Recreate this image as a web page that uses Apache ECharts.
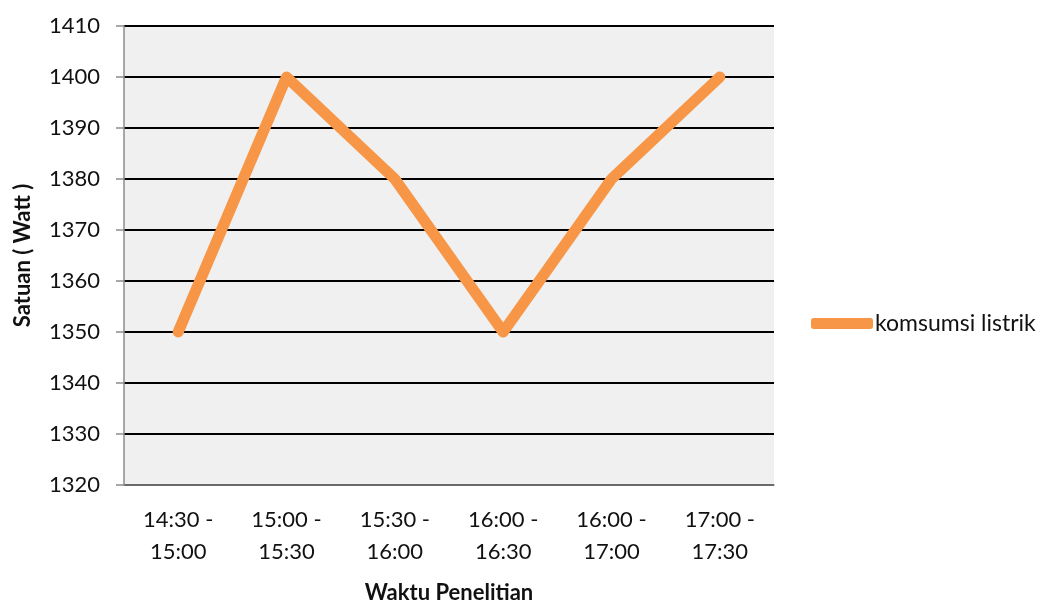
<!DOCTYPE html>
<html>
<head>
<meta charset="utf-8">
<script src="https://cdn.jsdelivr.net/npm/echarts@6/dist/echarts.min.js"></script>
<style>
  html, body { margin: 0; padding: 0; background: #fff; }
  #chart { width: 1051px; height: 603px; }
</style>
</head>
<body>
<div id="chart"></div>
<script>
// Time slots of the measurement and the electricity use recorded in each
const categories = ['14:30 -\n15:00', '15:00 -\n15:30', '15:30 -\n16:00', '16:00 -\n16:30', '16:00 -\n17:00', '17:00 -\n17:30'];
const consumption = [1350, 1400, 1380, 1350, 1380, 1400];
const seriesName = 'komsumsi listrik';
const yMin = 1320, yMax = 1410, yStep = 10;

const FONT = 'Lato, "Open Sans", sans-serif';
const chart = echarts.init(document.getElementById('chart'), null, { renderer: 'canvas' });

chart.setOption({
  animation: false,
  backgroundColor: '#ffffff',
  textStyle: { fontFamily: FONT },
  grid: {
    left: 124, top: 26, width: 650, height: 459,
    outerBoundsMode: 'none', containLabel: false,
    show: true, backgroundColor: '#f0f0f0', borderWidth: 0
  },
  legend: {
    data: [{ name: seriesName, icon: 'roundRect' }],
    left: 806, top: 307,
    itemWidth: 62, itemHeight: 11, itemGap: 0,
    textStyle: { fontFamily: FONT, fontSize: 23, color: '#111', padding: [0, 0, 0, -3] }
  },
  xAxis: {
    type: 'category',
    data: categories,
    boundaryGap: true,
    name: 'Waktu Penelitian',
    nameLocation: 'middle',
    nameGap: 97,
    nameTextStyle: { fontFamily: FONT, fontSize: 22, fontWeight: 'bold', color: '#111' },
    axisLine: { show: true, lineStyle: { color: '#8c8c8c', width: 1.5 } },
    axisTick: { show: false },
    axisLabel: { fontFamily: FONT, fontSize: 22, color: '#111', lineHeight: 32, margin: 19 },
    splitLine: { show: false }
  },
  yAxis: {
    type: 'value',
    min: yMin, max: yMax, interval: yStep,
    name: 'Satuan ( Watt )',
    nameLocation: 'middle',
    nameGap: 90,
    nameRotate: 90,
    nameTextStyle: { fontFamily: FONT, fontSize: 22, fontWeight: 'bold', color: '#111' },
    axisLine: { show: true, lineStyle: { color: '#8c8c8c', width: 1.5 } },
    axisTick: { show: true, length: 8, lineStyle: { color: '#8c8c8c', width: 1.5 } },
    axisLabel: { fontFamily: FONT, fontSize: 22, color: '#111', margin: 24, formatter: v => String(v) },
    splitLine: { show: true, lineStyle: { color: '#000', width: 2 } }
  },
  series: [{
    name: seriesName,
    type: 'line',
    data: consumption,
    symbol: 'none',
    color: '#f79646',
    lineStyle: { color: '#f79646', width: 11, cap: 'round', join: 'round' },
    itemStyle: { color: '#f79646' }
  }]
});
</script>
</body>
</html>
